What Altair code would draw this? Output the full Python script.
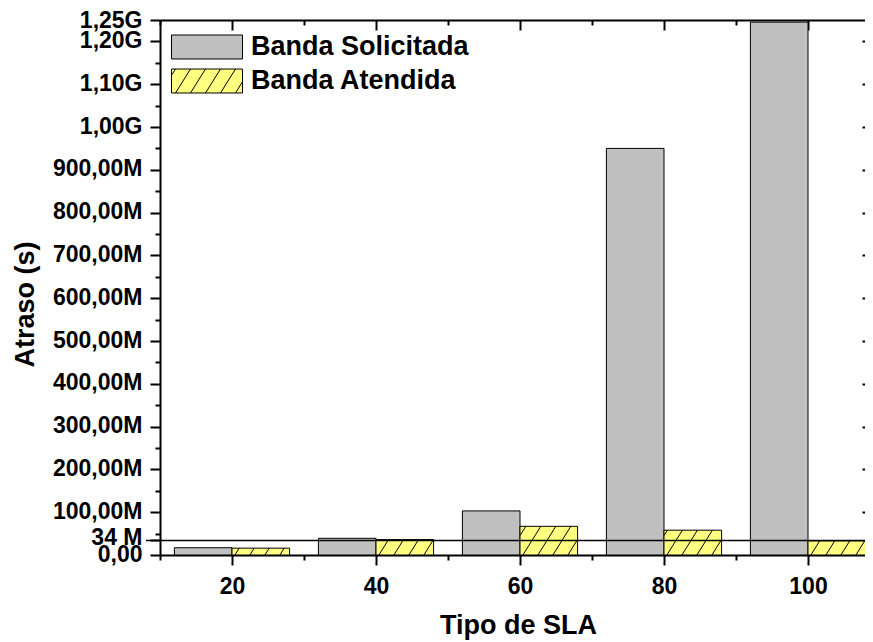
import altair as alt
import pandas as pd
import numpy as np

# ---- data ----
sla = [20, 40, 60, 80, 100]
solicitada = [17e6, 39e6, 103e6, 950e6, 1245e6]
atendida = [16e6, 36e6, 67e6, 58e6, 33e6]
series = ["Banda Solicitada", "Banda Atendida"]
limite = [34e6]
x_major = [20, 40, 60, 80, 100]
x_minor = [10, 30, 50, 70, 90]
y_major = [0, 34000000] + [100000000 * i for i in range(1, 13)] + [1250000000]
y_minor = [50000000 + 100000000 * i for i in range(12)]
y_right = [100000000 * i for i in range(1, 13)]

# ---- layout / style ----
W, H = 705, 535
XMIN = 10
XMAX = XMIN + W / 7.2
YMAX = 1250000000
BAR_W = 8
FONT = "Liberation Sans, Arial, sans-serif"
GREY = "#C0C0C0"
YELLOW = "#FFFF80"

rows = []
for s, v in zip(sla, solicitada):
    rows.append({"serie": series[0], "x0": s - BAR_W, "x1": s, "v": v, "z": 0})
for s, v in zip(sla, atendida):
    rows.append({"serie": series[1], "x0": s, "x1": s + BAR_W, "v": v, "z": 0})
bars = pd.DataFrame(rows)

# hatch segments inside the yellow bars (decoration derived from bar extents)
px_x = W / (XMAX - XMIN)
px_y = H / YMAX
k = 1.6 * px_x / px_y
s_step = 15 / px_x
hrows = []
for s, v in zip(sla, atendida):
    xa, xb = s, s + BAR_W
    tmax = v / k
    jmin = int(np.floor(-tmax / s_step)) - 2
    jmax = int(np.ceil(BAR_W / s_step)) + 2
    for j in range(jmin, jmax + 1):
        c = xa + 0.4 + j * s_step
        t0 = max(0.0, xa - c)
        t1 = min(tmax, xb - c)
        if t1 > t0 + 1e-9:
            hrows.append({"hx": c + t0, "hy": k * t0, "hx2": c + t1, "hy2": k * t1})
hatch = pd.DataFrame(hrows)

# legend swatch paths (unit coords, width 71px, height 24px)
hh = 12 / 35.5
rect_path = f"M-1,-{hh:.4f}H1V{hh:.4f}H-1Z"
segs = []
for j in range(-2, 7):
    b = -35.5 + 4 + 15 * j
    ta = max(0.0, (-35.5 - b) / 15)
    tb = min(1.0, (35.5 - b) / 15)
    if tb > ta:
        x1, y1 = (b + 15 * ta) / 35.5, (12 - 24 * ta) / 35.5
        x2, y2 = (b + 15 * tb) / 35.5, (12 - 24 * tb) / 35.5
        segs.append(f"M{x1:.4f},{y1:.4f}L{x2:.4f},{y2:.4f}")
hatch_path = rect_path + "".join(segs)

xs = alt.Scale(domain=[XMIN, XMAX], nice=False, zero=False)
ys = alt.Scale(domain=[0, YMAX], nice=False)

common = dict(domainColor="black", tickColor="black", grid=False)

label_expr = (
    "datum.value == 0 ? '0,00' : datum.value == 34000000 ? '34 M' : "
    "datum.value < 1000000000 ? replace(format(datum.value/1000000, '.2f'), '.', ',') + 'M' : "
    "replace(format(datum.value/1000000000, '.2f'), '.', ',') + 'G'"
)

x_bottom = alt.Axis(orient="bottom", values=x_major, format="d", tickSize=10, tickWidth=2,
                    domainWidth=2, labelFont=FONT, labelFontSize=23, labelFontWeight="bold",
                    labelColor="black", labelPadding=10, title="Tipo de SLA", titleFont=FONT,
                    titleFontSize=27, titleFontWeight="bold", titleColor="black",
                    titleX=358, titleY=78, titleBaseline="alphabetic", **common)
y_left = alt.Axis(orient="left", values=y_major, labelExpr=label_expr, tickSize=10, tickWidth=2,
                  domainWidth=2, labelFont=FONT, labelFontSize=23, labelFontWeight="bold",
                  labelColor="black", labelPadding=8, labelOverlap=False, labelBound=False,
                  labelFlush=False,
                  labelOffset={"condition": [
                      {"test": "datum.value == 34000000", "value": -3},
                      {"test": "datum.value == 1250000000", "value": 0}],
                      "value": -1},
                  title="Atraso (s)", titleFont=FONT, titleFontSize=27, titleFontWeight="bold",
                  titleColor="black", titleAngle=270, titleX=-135, titleY=284,
                  titleBaseline="middle", titleAlign="center", **common)

x_bottom_minor = alt.Axis(orient="bottom", values=x_minor, tickSize=5, tickWidth=2,
                          domain=False, labels=False, title=None, **common)
y_left_minor = alt.Axis(orient="left", values=y_minor, tickSize=5, tickWidth=2,
                        domain=False, labels=False, title=None, **common)
x_top = alt.Axis(orient="bottom", offset=-H, values=x_major, tickSize=10, tickWidth=2,
                 domainWidth=2, labels=False, title=None, **common)
x_top_minor = alt.Axis(orient="bottom", offset=-H, values=x_minor, tickSize=5, tickWidth=2,
                       domain=False, labels=False, title=None, **common)
y_rt = alt.Axis(orient="left", offset=-W, values=y_right, tickSize=3, tickWidth=2,
                domain=False, labels=False, title=None, **common)

fill_scale = alt.Scale(domain=series, range=[GREY, YELLOW])

legend_spec = dict(title=None, orient="none", legendX=11, legendY=11,
                   padding=0, clipHeight=32, rowPadding=2, labelOffset=8,
                   symbolSize=5041, symbolStrokeColor="black",
                   symbolStrokeWidth=1, labelFont=FONT, labelFontSize=27,
                   labelFontWeight="bold", labelColor="black", labelLimit=400)

bar_layer = alt.Chart(bars).mark_rect(stroke="black", strokeWidth=1).encode(
    x=alt.X("x0:Q", scale=xs, axis=x_bottom),
    x2="x1",
    y=alt.Y("v:Q", scale=ys, axis=y_left),
    y2="z",
    fill=alt.Fill("serie:N", scale=fill_scale, legend=alt.Legend(**legend_spec)),
)

hatch_layer = alt.Chart(hatch).mark_rule(color="black", strokeWidth=1).encode(
    x=alt.X("hx:Q", scale=xs, axis=x_bottom_minor),
    x2="hx2",
    y=alt.Y("hy:Q", scale=ys, axis=y_left_minor),
    y2="hy2",
)

lim_layer = alt.Chart(pd.DataFrame({"lim": limite})).mark_rule(color="black", strokeWidth=1.5).encode(
    y=alt.Y("lim:Q", scale=ys, axis=y_rt),
    x=alt.value(-14),
    x2=alt.value(W),
)

legend_layer = alt.Chart(bars).transform_filter("false").mark_point(
    filled=True, stroke="black", strokeWidth=1, size=5041, opacity=1
).encode(
    x=alt.X("x0:Q", scale=xs, axis=x_top),
    y=alt.Y("v:Q", scale=ys, axis=None),
    fill=alt.Fill("serie:N", scale=fill_scale, legend=alt.Legend(**legend_spec)),
    shape=alt.Shape("serie:N", scale=alt.Scale(domain=series, range=[rect_path, hatch_path]),
                    legend=alt.Legend(**legend_spec)),
)

top_minor_layer = alt.Chart(bars).transform_filter("false").mark_point().encode(
    x=alt.X("x1:Q", scale=xs, axis=x_top_minor),
    y=alt.Y("v:Q", scale=ys, axis=None),
)

chart = alt.layer(bar_layer, hatch_layer, lim_layer, legend_layer, top_minor_layer).resolve_axis(
    x="independent", y="independent"
).properties(
    width=W, height=H,
    autosize=alt.AutoSizeParams(type="none"),
    padding={"left": 152, "top": 12, "right": 0, "bottom": 86},
).configure_view(stroke=None).configure(background="white")

chart.save("out.html", embed_options={"renderer": "svg", "actions": False})
